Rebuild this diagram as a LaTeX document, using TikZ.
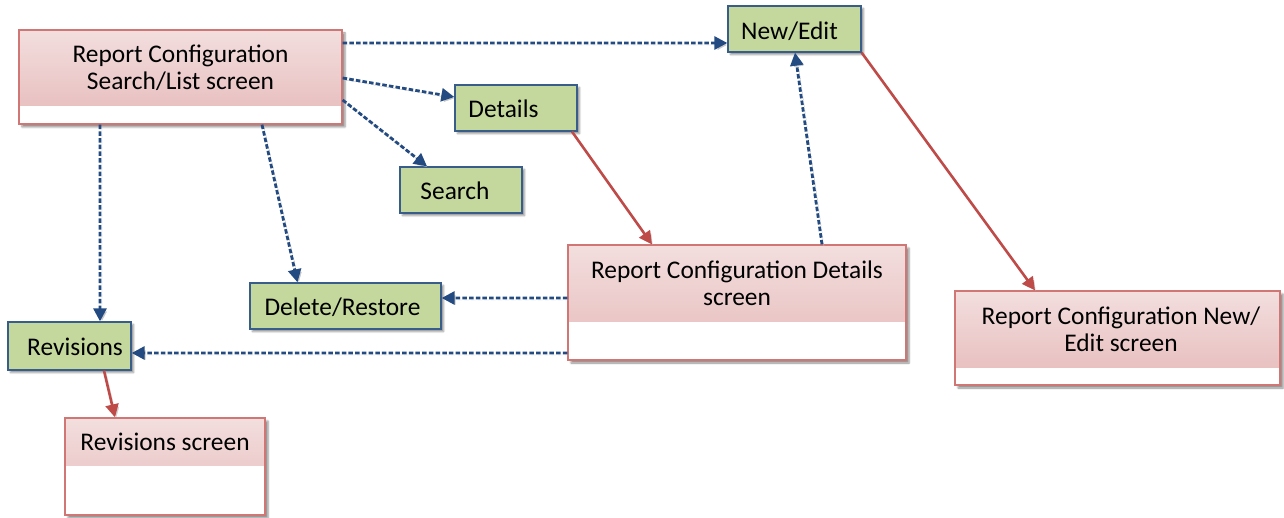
\documentclass[tikz,border=0pt]{standalone}
\usepackage{fontspec}
\setmainfont{Carlito}
\usetikzlibrary{arrows.meta,shadows.blur}
\definecolor{pinktop}{RGB}{243,222,222}
\definecolor{pinkbot}{RGB}{230,186,186}
\definecolor{pinkedge}{RGB}{208,118,116}
\definecolor{greenfill}{RGB}{196,215,157}
\definecolor{blueedge}{RGB}{56,93,138}
\definecolor{bluearrow}{RGB}{35,75,130}
\definecolor{redarrow}{RGB}{190,75,72}
\tikzset{
  txt/.style={font=\fontsize{25.5}{27}\selectfont, align=center, inner sep=0pt},
  gbox/.style={draw=blueedge, line width=1.3bp, fill=greenfill, inner sep=0pt,
    blur shadow={shadow xshift=2.5bp, shadow yshift=-2.5bp, shadow blur steps=4, shadow opacity=45}},
  pbox/.style={draw=pinkedge, line width=1.3bp, fill=white, inner sep=0pt,
    blur shadow={shadow xshift=3bp, shadow yshift=-3bp, shadow blur steps=4, shadow opacity=45},
    path picture={\shade[top color=pinktop, bottom color=pinkbot]
      (path picture bounding box.north west) rectangle ([yshift=#1]path picture bounding box.south east);}},
  blueconn/.style={draw=bluearrow, line width=2.8bp, dash pattern=on 4.5bp off 2.2bp,
    -{Triangle[length=13bp,width=13bp]},
    preaction={draw=black!22, dash pattern=on 4.5bp off 2.2bp, -{Triangle[length=13bp,width=13bp]},
      transform canvas={xshift=2bp,yshift=-2bp}}},
  redconn/.style={draw=redarrow, line width=2.6bp, -{Triangle[length=13bp,width=13bp]},
    preaction={draw=black!18, -{Triangle[length=13bp,width=13bp]},
      transform canvas={xshift=2bp,yshift=-2bp}}},
}
\begin{document}
\begin{tikzpicture}[x=1bp,y=-1bp]
\useasboundingbox (0,0) rectangle (1284,518);
% pink screen boxes
\node[pbox=18bp, minimum width=323bp, minimum height=94bp] (main) at (180.5,77) {};
\node[txt] (maint) at (180.5,67.5) {Report Configuration\\Search/List screen};
\node[pbox=38bp, minimum width=338bp, minimum height=115bp] (ds) at (737,302.5) {};
\node[txt] (dst) at (737,283.5) {Report Configuration Details\\screen};
\node[pbox=17bp, minimum width=325bp, minimum height=94bp] (nes) at (1117.5,338) {};
\node[txt] (nest) at (1121,329) {Report Configuration New/\\Edit screen};
\node[pbox=50bp, minimum width=200bp, minimum height=97bp] (rs) at (165,466.5) {};
\node[txt] (rst) at (165,442) {Revisions screen};
% green action boxes
\node[gbox, minimum width=133bp, minimum height=46bp] (ne) at (794.5,29) {};
\node[txt] (net) at (789.5,31) {New/Edit};
\node[gbox, minimum width=122bp, minimum height=46bp] (det) at (516,108) {};
\node[txt] (dett) at (503.5,109) {Details};
\node[gbox, minimum width=122bp, minimum height=46bp] (srch) at (461,190) {};
\node[txt] (srcht) at (455,191) {Search};
\node[gbox, minimum width=191bp, minimum height=46bp] (dr) at (345.5,306) {};
\node[txt] (drt) at (342.5,307) {Delete/Restore};
\node[gbox, minimum width=123bp, minimum height=48bp] (rev) at (69.5,346) {};
\node[txt] (revt) at (75,347) {Revisions};
% blue dashed connectors
\draw[blueconn] ([yshift=34bp]main.east) -- ([yshift=-14bp]ne.west);
\draw[blueconn] ([yshift=-1bp]main.east) -- ([yshift=11bp]det.west);
\draw[blueconn] ([yshift=-23bp]main.east) -- ([xshift=-34bp]srch.north);
\draw[blueconn] ([xshift=-80.5bp]main.south) -- ([xshift=30.5bp]rev.north);
\draw[blueconn] ([xshift=81.5bp]main.south) -- ([xshift=-48bp]dr.north);
\draw[blueconn] ([yshift=4.5bp]ds.west) -- ([yshift=8bp]dr.east);
\draw[blueconn] ([yshift=-50.5bp]ds.west) -- ([yshift=-7bp]rev.east);
\draw[blueconn] ([xshift=85bp]ds.north) -- ([xshift=0.5bp]ne.south);
% red connectors
\draw[redconn] ([xshift=56bp]det.south) -- ([xshift=-85bp]ds.north);
\draw[redconn] (ne.south east) -- ([xshift=-82.5bp]nes.north);
\draw[redconn] ([xshift=34.5bp]rev.south) -- ([xshift=-50bp]rs.north);
\end{tikzpicture}
\end{document}
